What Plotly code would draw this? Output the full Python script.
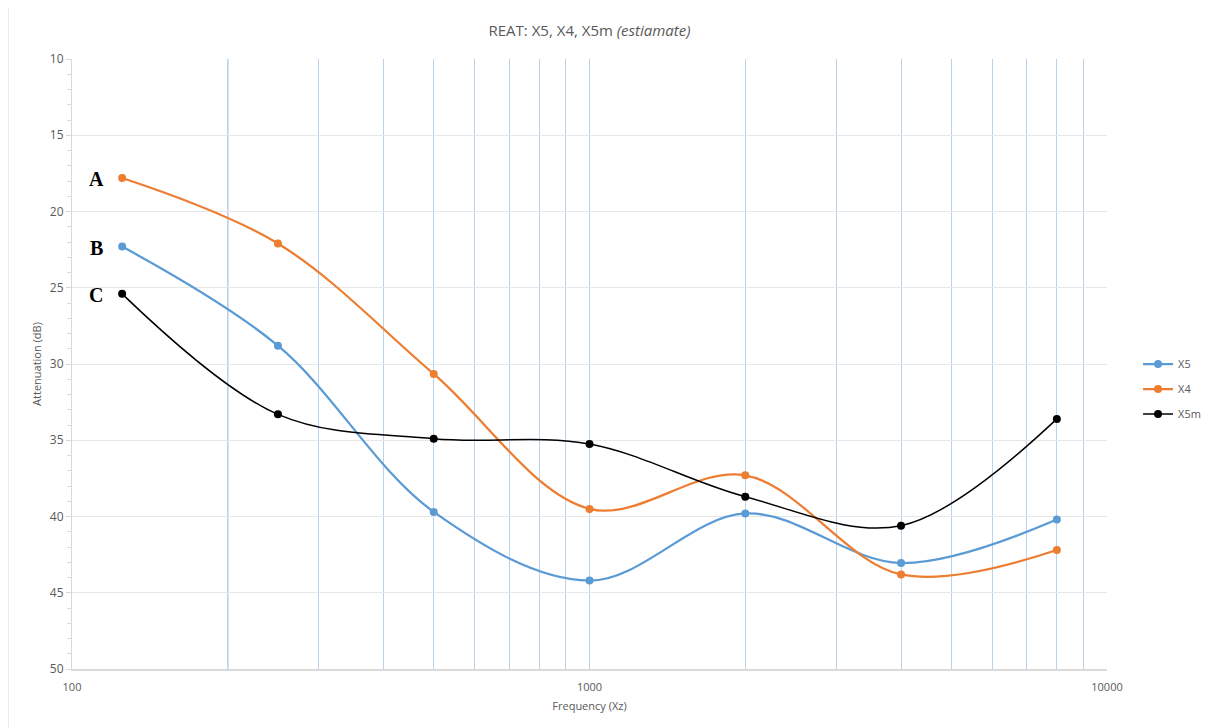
import math
import plotly.graph_objects as go

freq = [125, 250, 500, 1000, 2000, 4000, 8000]
x5 = [22.3, 28.8, 39.7, 44.2, 39.8, 43.05, 40.2]
x4 = [17.8, 22.1, 30.65, 39.5, 37.3, 43.8, 42.2]
x5m = [25.4, 33.3, 34.9, 35.25, 38.7, 40.6, 33.6]

series_names = ["X5", "X4", "X5m"]
series_colors = ["#5b9bd5", "#ed7d31", "#000000"]
point_labels = ["B", "A", "C"]

x_major_ticks = [100, 1000, 10000]
x_grid_vals = [200, 300, 400, 500, 600, 700, 800, 900, 1000,
               2000, 3000, 4000, 5000, 6000, 7000, 8000, 9000, 10000]
dark_grid_val = 200

fig = go.Figure()
for name, vals, col in zip(series_names, [x5, x4, x5m], series_colors):
    fig.add_trace(go.Scatter(
        x=freq, y=vals, name=name, mode="lines+markers", legendgroup=name,
        line=dict(color=col, width=2.25 if col != "#000000" else 1.5,
                  shape="spline", smoothing=1.0),
        marker=dict(color=col, size=8),
    ))

for lab, vals in zip(point_labels, [x5, x4, x5m]):
    fig.add_annotation(x=math.log10(freq[0]), y=vals[0], xref="x", yref="y",
                       text="<b>%s</b>" % lab, showarrow=False,
                       xshift=-26, yshift=-1,
                       font=dict(family="Liberation Serif", size=20, color="#000000"))

fig.add_shape(type="line", xref="x", yref="paper", x0=dark_grid_val, x1=dark_grid_val,
              y0=0, y1=1, line=dict(color="#6f94bf", width=1), layer="below")

# outer chart border
fig.add_shape(type="rect", xref="paper", yref="paper",
              x0=-0.0618, x1=1.0956, y0=-0.2, y1=1.0885,
              line=dict(color="#d9d9d9", width=1))

fig.update_layout(
    width=1212, height=728,
    margin=dict(l=64, r=113, t=51, b=67),
    paper_bgcolor="white", plot_bgcolor="white",
    title=dict(text="REAT: X5, X4, X5m <i>(estiamate)</i>", x=0.5, xref="paper",
               xanchor="center", y=1 - 23 / 728, yanchor="middle",
               font=dict(family="Open Sans", size=15, color="#595959")),
    font=dict(family="Open Sans", color="#595959", size=11),
    legend=dict(x=1.03, y=0.459, xanchor="left", yanchor="middle",
                font=dict(size=11, color="#595959"), tracegroupgap=6,
                bgcolor="rgba(0,0,0,0)"),
    showlegend=True,
)

fig.update_xaxes(
    type="log", range=[2, 4], automargin=False,
    tickmode="array", tickvals=x_major_ticks, ticktext=[str(v) for v in x_major_ticks],
    showgrid=False, showline=True, linecolor="#d9d9d9", linewidth=1.5,
    ticks="", tickfont=dict(size=11, color="#595959"), ticklabelstandoff=7,
    minor=dict(tickmode="array", tickvals=x_grid_vals, showgrid=True,
               gridcolor="#b9d3ec", gridwidth=1, ticks=""),
    title=dict(text="Frequency (Xz)", font=dict(size=11, color="#595959"), standoff=9),
    zeroline=False,
)
fig.update_yaxes(
    range=[50, 10], dtick=5, tick0=10, automargin=False,
    showgrid=True, gridcolor="#e6e6e6", gridwidth=1,
    showline=True, linecolor="#d9d9d9", linewidth=1,
    ticks="outside", ticklen=5, tickcolor="#d9d9d9",
    minor=dict(dtick=1, ticks="outside", ticklen=4, tickcolor="#d9d9d9", showgrid=False),
    tickfont=dict(size=12, color="#595959"),
    title=dict(text="Attenuation (dB)", font=dict(size=11, color="#595959"), standoff=6),
    zeroline=False,
)

fig.write_html("out.html")
